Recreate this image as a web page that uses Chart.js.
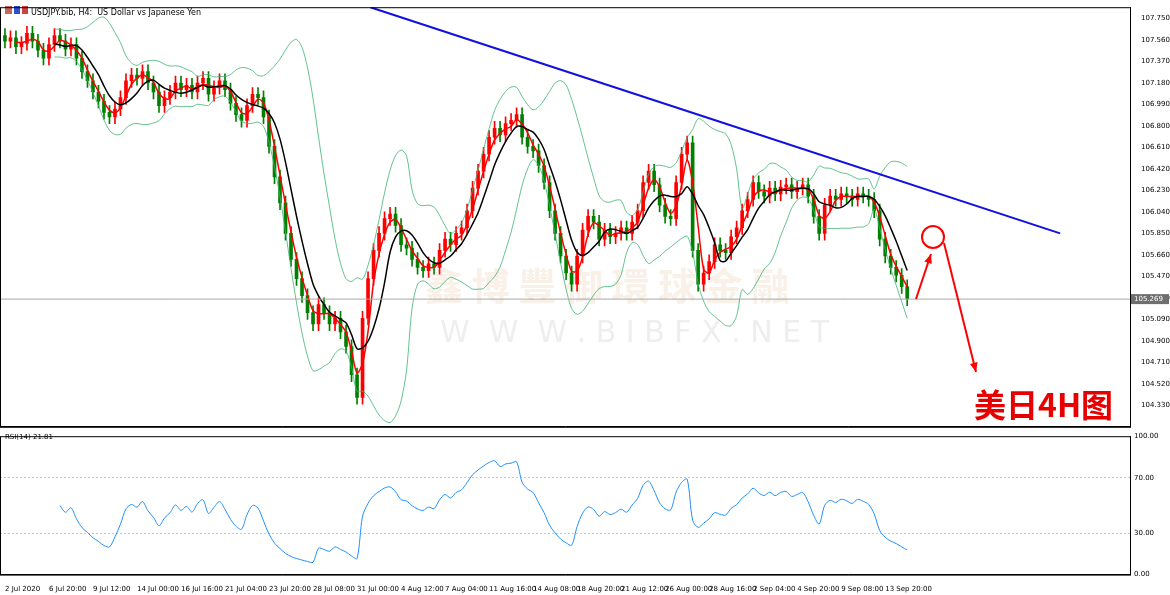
<!DOCTYPE html>
<html>
<head>
<meta charset="utf-8">
<script src="https://cdn.jsdelivr.net/npm/chart.js@4"></script>
<style>
  body { margin: 0; background: #fff; width: 1170px; height: 595px; overflow: hidden; position: relative; font-family: "DejaVu Sans", sans-serif; }
  #main { position: absolute; left: 0; top: 0; }
  #rsi { position: absolute; left: 0; top: 428px; }
</style>
</head>
<body>
<canvas id="main" width="1170" height="434"></canvas>
<canvas id="rsi" width="1170" height="167"></canvas>
<script>
// closes, one per 8h step
const closes = [
    107.55, 107.58, 107.50, 107.53, 107.62, 107.55, 107.47, 107.40, 107.52, 107.60,
    107.55, 107.48, 107.52, 107.40, 107.28, 107.20, 107.10, 107.02, 106.92, 106.88,
    106.95, 107.05, 107.20, 107.25, 107.22, 107.28, 107.18, 107.10, 106.98, 107.05,
    107.10, 107.18, 107.12, 107.16, 107.10, 107.18, 107.22, 107.08, 107.14, 107.20,
    107.12, 107.00, 106.90, 106.85, 106.98, 107.08, 107.05, 106.88, 106.62, 106.35,
    106.12, 105.85, 105.62, 105.45, 105.30, 105.15, 105.05, 105.22, 105.15, 105.05,
    105.10, 104.98, 104.85, 104.60, 104.40, 105.10, 105.45, 105.70, 105.85, 105.98,
    106.02, 105.92, 105.75, 105.72, 105.62, 105.55, 105.52, 105.58, 105.55, 105.70,
    105.80, 105.75, 105.85, 105.90, 106.05, 106.25, 106.40, 106.55, 106.70, 106.78,
    106.72, 106.82, 106.85, 106.90, 106.70, 106.62, 106.58, 106.45, 106.30, 106.05,
    105.85, 105.65, 105.50, 105.40, 105.65, 105.88, 106.00, 105.95, 105.80, 105.88,
    105.82, 105.85, 105.90, 105.85, 105.95, 106.05, 106.30, 106.40, 106.28, 106.10,
    106.00, 105.98, 106.30, 106.55, 106.65, 105.70, 105.40, 105.50, 105.60, 105.75,
    105.70, 105.68, 105.82, 105.90, 106.05, 106.15, 106.30, 106.22, 106.18, 106.25,
    106.20, 106.26, 106.28, 106.22, 106.25, 106.28, 106.18, 106.00, 105.85, 106.10,
    106.18, 106.15, 106.20, 106.18, 106.15, 106.20, 106.18, 106.15, 106.05, 105.80,
    105.65, 105.55, 105.48, 105.38, 105.27
];
const firstOpen = 107.60;
const wick = 0.06;

const dateLabels = ['2 Jul 2020', '6 Jul 20:00', '9 Jul 12:00', '14 Jul 00:00', '16 Jul 16:00',
    '21 Jul 04:00', '23 Jul 20:00', '28 Jul 08:00', '31 Jul 00:00', '4 Aug 12:00', '7 Aug 04:00',
    '11 Aug 16:00', '14 Aug 08:00', '18 Aug 20:00', '21 Aug 12:00', '26 Aug 00:00', '28 Aug 16:00',
    '2 Sep 04:00', '4 Sep 20:00', '9 Sep 08:00', '13 Sep 20:00'];
const priceTicks = [104.330, 104.520, 104.710, 104.900, 105.090, 105.280, 105.470, 105.660, 105.850,
    106.040, 106.230, 106.420, 106.610, 106.800, 106.990, 107.180, 107.370, 107.560, 107.750];
const rsiTicks = [0, 30, 70, 100];
const trendLine = [[66.4, 107.85], [191.8, 105.85]];
const lastPrice = 105.269;
const rsiShown = '21.81';

const X_MIN = -0.9, X_MAX = 204.5;
const UP = '#ff0000', DOWN = '#008000';

// candles
let bodies = [], wicks = [], colors = [];
for (let i = 0; i < closes.length; i++) {
    let o = i == 0 ? firstOpen : closes[i-1];
    let c = closes[i];
    let lo = Math.min(o, c), hi = Math.max(o, c);
    if (hi - lo < 0.01) { hi += 0.005; lo -= 0.005; }
    bodies.push({x: i, y: [lo, hi]});
    wicks.push({x: i, y: [lo - wick, hi + wick]});
    colors.push(c >= o ? UP : DOWN);
}

function sma(arr, n, i) {
    let s = 0;
    for (let k = i - n + 1; k <= i; k++) s += arr[k];
    return s / n;
}

let fast = [], mid = [], upper = [], lower = [];
for (let i = 0; i < closes.length; i++) {
    if (i >= 2) fast.push({x: i, y: sma(closes, 3, i)});
    if (i >= 9) {
        let m = sma(closes, 10, i);
        let v = 0;
        for (let k = i - 9; k <= i; k++) v += (closes[k] - m) ** 2;
        let sd = Math.sqrt(v / 10);
        mid.push({x: i, y: sma(closes, 6, i)});
        upper.push({x: i, y: m + 2 * sd});
        lower.push({x: i, y: m - 2 * sd});
    }
}

// RSI, Wilder
let rsi = [];
let ag = 0, al = 0, n = 10;
for (let i = 1; i < closes.length; i++) {
    let d = closes[i] - closes[i-1];
    let g = Math.max(d, 0), l = Math.max(-d, 0);
    if (i <= n) {
        ag += g / n; al += l / n;
        if (i == n) rsi.push({x: i, y: 100 - 100 / (1 + ag / (al || 1e-9))});
    } else {
        ag = (ag * (n - 1) + g) / n;
        al = (al * (n - 1) + l) / n;
        rsi.push({x: i, y: 100 - 100 / (1 + ag / (al || 1e-9))});
    }
}

const lineDs = (data, color, w) => ({
    type: 'line', data: data, borderColor: color, borderWidth: w,
    pointRadius: 0, tension: 0.3, fill: false
});

const xScale = (showLabels) => ({
    type: 'linear', min: X_MIN, max: X_MAX, offset: false,
    grid: { display: false },
    border: { display: true, color: '#000' },
    afterFit: s => { if (!showLabels) s.height = 1; },
    afterBuildTicks: s => { s.ticks = dateLabels.map((_, k) => ({value: k * 8})); },
    ticks: {
        display: showLabels, autoSkip: false, maxRotation: 0, align: 'start',
        font: { size: 7, family: 'DejaVu Sans' }, color: '#000', padding: 2,
        callback: (v) => dateLabels[Math.round(v / 8)]
    }
});

const frame = {
    id: 'frame',
    afterDraw(chart) {
        const {ctx, chartArea: a} = chart;
        ctx.save();
        ctx.strokeStyle = '#000'; ctx.lineWidth = 1;
        ctx.strokeRect(a.left + 0.5, a.top + 0.5, a.right - a.left, a.bottom - a.top);
        ctx.restore();
    }
};

const extras = {
    id: 'extras',
    beforeDatasetsDraw(chart) {
        const ctx = chart.ctx;
        ctx.save();
        ctx.font = 'bold 38px "Noto Sans CJK TC"';
        ctx.fillStyle = 'rgba(235,205,175,0.3)';
        ctx.fillText('鑫 博 豐 御 環 球 金 融', 425, 300);
        ctx.font = '30px "DejaVu Sans"';
        ctx.fillStyle = 'rgba(205,205,205,0.35)';
        ctx.fillText('W  W  W . B I B F X . N E T', 440, 342);
        ctx.restore();
    },
    afterDraw(chart) {
        const {ctx, chartArea: a, scales} = chart;
        const yp = scales.y.getPixelForValue(lastPrice);
        ctx.save();
        ctx.strokeStyle = '#a8a8a8'; ctx.lineWidth = 1;
        ctx.beginPath(); ctx.moveTo(a.left, yp); ctx.lineTo(a.right, yp); ctx.stroke();
        ctx.fillStyle = '#6e6e6e';
        ctx.fillRect(a.right + 1, yp - 5, 38, 10);
        ctx.fillStyle = '#fff';
        ctx.font = '7px "DejaVu Sans"';
        ctx.textBaseline = 'middle';
        ctx.fillText(lastPrice.toFixed(3), a.right + 4, yp);
        ctx.fillStyle = '#000';
        ctx.textBaseline = 'alphabetic';
        ctx.font = '8px "DejaVu Sans"';
        ctx.fillText('USDJPY.bib, H4:  US Dollar vs Japanese Yen', 31, 15);
        ctx.fillStyle = '#c8645a'; ctx.fillRect(5, 6, 7, 8);
        ctx.fillStyle = '#3050d0'; ctx.fillRect(14, 6, 6, 8);
        ctx.fillStyle = '#d04040'; ctx.fillRect(22, 6, 6, 8);
        // annotations
        ctx.strokeStyle = '#ff0000'; ctx.fillStyle = '#ff0000'; ctx.lineWidth = 2;
        ctx.beginPath(); ctx.arc(933, 237, 11, 0, Math.PI * 2); ctx.stroke();
        const arrow = (x1, y1, x2, y2) => {
            ctx.beginPath(); ctx.moveTo(x1, y1); ctx.lineTo(x2, y2); ctx.stroke();
            const ang = Math.atan2(y2 - y1, x2 - x1);
            ctx.beginPath();
            ctx.moveTo(x2, y2);
            ctx.lineTo(x2 - 10 * Math.cos(ang - 0.4), y2 - 10 * Math.sin(ang - 0.4));
            ctx.lineTo(x2 - 10 * Math.cos(ang + 0.4), y2 - 10 * Math.sin(ang + 0.4));
            ctx.closePath(); ctx.fill();
        };
        arrow(916, 299, 931, 254);
        arrow(944, 243, 976, 372);
        ctx.font = 'bold 32px "Noto Sans CJK SC"';
        ctx.fillStyle = '#e60000';
        ctx.fillText('美日4H图', 974, 417);
        ctx.restore();
    }
};

new Chart(document.getElementById('main'), {
    type: 'bar',
    data: {
        datasets: [
            lineDs(trendLine.map(p => ({x: p[0], y: p[1]})), '#1010e0', 2),
            lineDs(upper, '#3cb371', 0.8),
            lineDs(lower, '#3cb371', 0.8),
            lineDs(mid, '#000000', 1.5),
            lineDs(fast, '#ff0000', 1.5),
            { data: wicks, backgroundColor: colors, barThickness: 1, grouped: false },
            { data: bodies, backgroundColor: colors, barThickness: 3, grouped: false }
        ]
    },
    options: {
        responsive: false, animation: false,
        layout: { padding: { top: 5, left: 0, right: 0, bottom: 0 } },
        plugins: { legend: { display: false }, tooltip: { enabled: false } },
        scales: {
            x: xScale(false),
            y: {
                position: 'right', min: 104.14, max: 107.85,
                grid: { display: false },
                border: { display: true, color: '#000' },
                afterFit: s => { s.width = 40; },
                afterBuildTicks: s => { s.ticks = priceTicks.map(v => ({value: v})); },
                ticks: { font: { size: 7, family: 'DejaVu Sans' }, color: '#000', padding: 3,
                    callback: v => v.toFixed(3) }
            }
        }
    },
    plugins: [extras, frame]
});

new Chart(document.getElementById('rsi'), {
    type: 'line',
    data: { datasets: [ lineDs(rsi, '#1e90ff', 1) ] },
    options: {
        responsive: false, animation: false,
        layout: { padding: { top: 4, left: 0, right: 0, bottom: 0 } },
        plugins: { legend: { display: false }, tooltip: { enabled: false } },
        scales: {
            x: xScale(true),
            y: {
                position: 'right', min: 0, max: 100,
                afterFit: s => { s.width = 40; },
                afterBuildTicks: s => { s.ticks = rsiTicks.map(v => ({value: v})); },
                grid: { drawTicks: false, color: c => (c.tick.value == 30 || c.tick.value == 70) ? '#c8c8c8' : 'transparent' },
                border: { display: true, color: '#000', dash: [2, 2] },
                ticks: { font: { size: 7, family: 'DejaVu Sans' }, color: '#000', padding: 4,
                    callback: v => v.toFixed(2) }
            }
        }
    },
    plugins: [frame, {
        id: 'rsiLabel',
        afterDraw(chart) {
            const ctx = chart.ctx;
            ctx.save();
            ctx.font = '7px "DejaVu Sans"'; ctx.fillStyle = '#000';
            ctx.fillText('RSI(14) ' + rsiShown, 5, 11);
            ctx.restore();
        }
    }]
});
</script>
</body>
</html>
